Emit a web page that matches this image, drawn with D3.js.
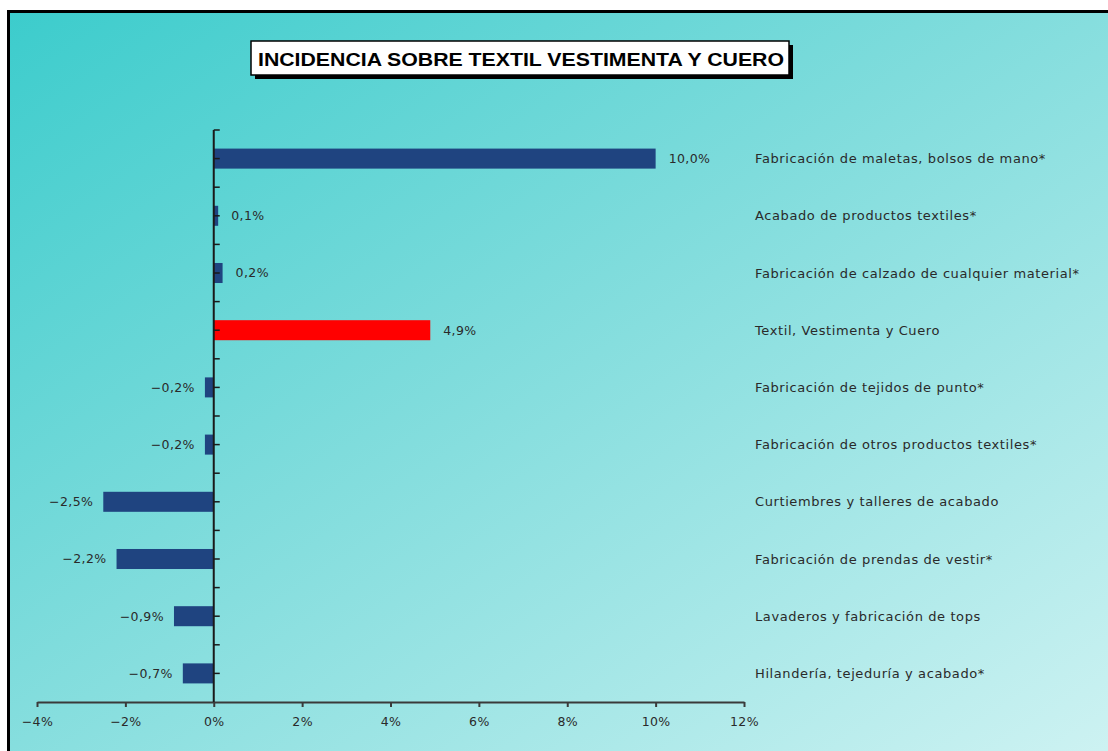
<!DOCTYPE html>
<html>
<head>
<meta charset="utf-8">
<script src="https://cdn.jsdelivr.net/npm/d3@7"></script>
<style>
  html, body { margin: 0; padding: 0; background: #ffffff; }
  svg { display: block; }
</style>
</head>
<body>
<svg id="chart" width="1108" height="751"></svg>
<script>
const title = "INCIDENCIA SOBRE TEXTIL VESTIMENTA Y CUERO";
const categories = [
  "Fabricación de maletas, bolsos de mano*",
  "Acabado de productos textiles*",
  "Fabricación de calzado de cualquier material*",
  "Textil, Vestimenta y Cuero",
  "Fabricación de tejidos de punto*",
  "Fabricación de otros productos textiles*",
  "Curtiembres y talleres de acabado",
  "Fabricación de prendas de vestir*",
  "Lavaderos y fabricación de tops",
  "Hilandería, tejeduría y acabado*"
];
const values = [10.0, 0.1, 0.2, 4.9, -0.2, -0.2, -2.5, -2.2, -0.9, -0.7];
const highlight = "Textil, Vestimenta y Cuero";
const xTicks = [-4, -2, 0, 2, 4, 6, 8, 10, 12];

const svg = d3.select("#chart");
const W = 1108, H = 751;

// background gradient
const defs = svg.append("defs");
const grad = defs.append("linearGradient").attr("id", "bg")
  .attr("x1", "0%").attr("y1", "0%").attr("x2", "100%").attr("y2", "100%");
grad.append("stop").attr("offset", "0%").attr("stop-color", "#3ccccc");
grad.append("stop").attr("offset", "45%").attr("stop-color", "#7fdcdc");
grad.append("stop").attr("offset", "100%").attr("stop-color", "#cdf2f2");

svg.append("rect").attr("x", 8).attr("y", 11).attr("width", W - 8).attr("height", H - 11)
  .attr("fill", "url(#bg)");
// frame (left and top)
svg.append("path").attr("d", `M8.5,${H} L8.5,11.5 L${W},11.5`)
  .attr("fill", "none").attr("stroke", "#000").attr("stroke-width", 3);

// scales
const x = d3.scaleLinear().domain([-4, 12]).range([37, 744]);
const y = d3.scaleBand().domain(categories).range([130, 702])
  .paddingInner(0.65).paddingOuter(0.325);
const step = y.step();

const fmt = v => (v < 0 ? "\u2212" : "") + d3.format(".1f")(Math.abs(v)).replace(".", ",") + "%";
const fmtTick = v => (v < 0 ? "\u2212" : "") + Math.abs(v) + "%";

const textColor = "#2a2a2a";
const font = "'DejaVu Sans', Verdana, sans-serif";

// bars
svg.append("g").selectAll("rect").data(categories).join("rect")
  .attr("x", (d, i) => x(Math.min(0, values[i])))
  .attr("y", d => y(d))
  .attr("width", (d, i) => Math.abs(x(values[i]) - x(0)))
  .attr("height", y.bandwidth())
  .attr("fill", d => d === highlight ? "#ff0000" : "#1f4480");

// x axis
const xAxis = d3.axisBottom(x).tickValues(xTicks).tickFormat(fmtTick).tickSizeInner(5).tickSizeOuter(0).tickPadding(10);
const gx = svg.append("g").attr("transform", "translate(0,702)").call(xAxis);
gx.select(".domain").attr("stroke", "#3a3a3a").attr("stroke-width", 2);
gx.selectAll(".tick line").attr("stroke", "#3a3a3a").attr("stroke-width", 2);
gx.selectAll("text").attr("font-family", font).attr("font-size", 12.5)
  .attr("letter-spacing", "0.4px").attr("fill", textColor);

// y axis line and ticks (band boundaries and centers)
const yTickPos = [];
categories.forEach(c => {
  const center = y(c) + y.bandwidth() / 2;
  yTickPos.push(center - step / 2);
  yTickPos.push(center);
});
svg.append("line").attr("x1", x(0)).attr("x2", x(0)).attr("y1", 130).attr("y2", 702)
  .attr("stroke", "#1a1a1a").attr("stroke-width", 2);
svg.append("g").selectAll("line").data(yTickPos).join("line")
  .attr("x1", x(0)).attr("x2", x(0) + 6).attr("y1", d => d).attr("y2", d => d)
  .attr("stroke", "#1a1a1a").attr("stroke-width", 1.5);

// value labels
svg.append("g").selectAll("text").data(categories).join("text")
  .attr("x", (d, i) => values[i] >= 0 ? x(values[i]) + 13 : x(values[i]) - 10)
  .attr("y", d => y(d) + y.bandwidth() / 2)
  .attr("dy", "0.35em")
  .attr("text-anchor", (d, i) => values[i] >= 0 ? "start" : "end")
  .attr("font-family", font).attr("font-size", 12.5).attr("letter-spacing", "0.4px")
  .attr("fill", textColor)
  .text((d, i) => fmt(values[i]));

// category labels
svg.append("g").selectAll("text").data(categories).join("text")
  .attr("x", 755)
  .attr("y", d => y(d) + y.bandwidth() / 2)
  .attr("dy", "0.35em")
  .attr("font-family", font).attr("font-size", 13).attr("letter-spacing", "0.6px")
  .attr("fill", textColor)
  .text(d => d);

// title box
const tb = { x: 251, y: 41, w: 538, h: 34 };
svg.append("rect").attr("x", tb.x + 4).attr("y", tb.y + 4).attr("width", tb.w).attr("height", tb.h).attr("fill", "#000");
svg.append("rect").attr("x", tb.x).attr("y", tb.y).attr("width", tb.w).attr("height", tb.h)
  .attr("fill", "#fff").attr("stroke", "#000").attr("stroke-width", 1.5);
svg.append("text").attr("x", tb.x + 7).attr("y", tb.y + 25)
  .attr("font-family", "'Liberation Sans', Arial, sans-serif").attr("font-weight", "bold")
  .attr("font-size", 19).attr("fill", "#000")
  .attr("textLength", 526).attr("lengthAdjust", "spacingAndGlyphs")
  .text(title);
</script>
</body>
</html>
